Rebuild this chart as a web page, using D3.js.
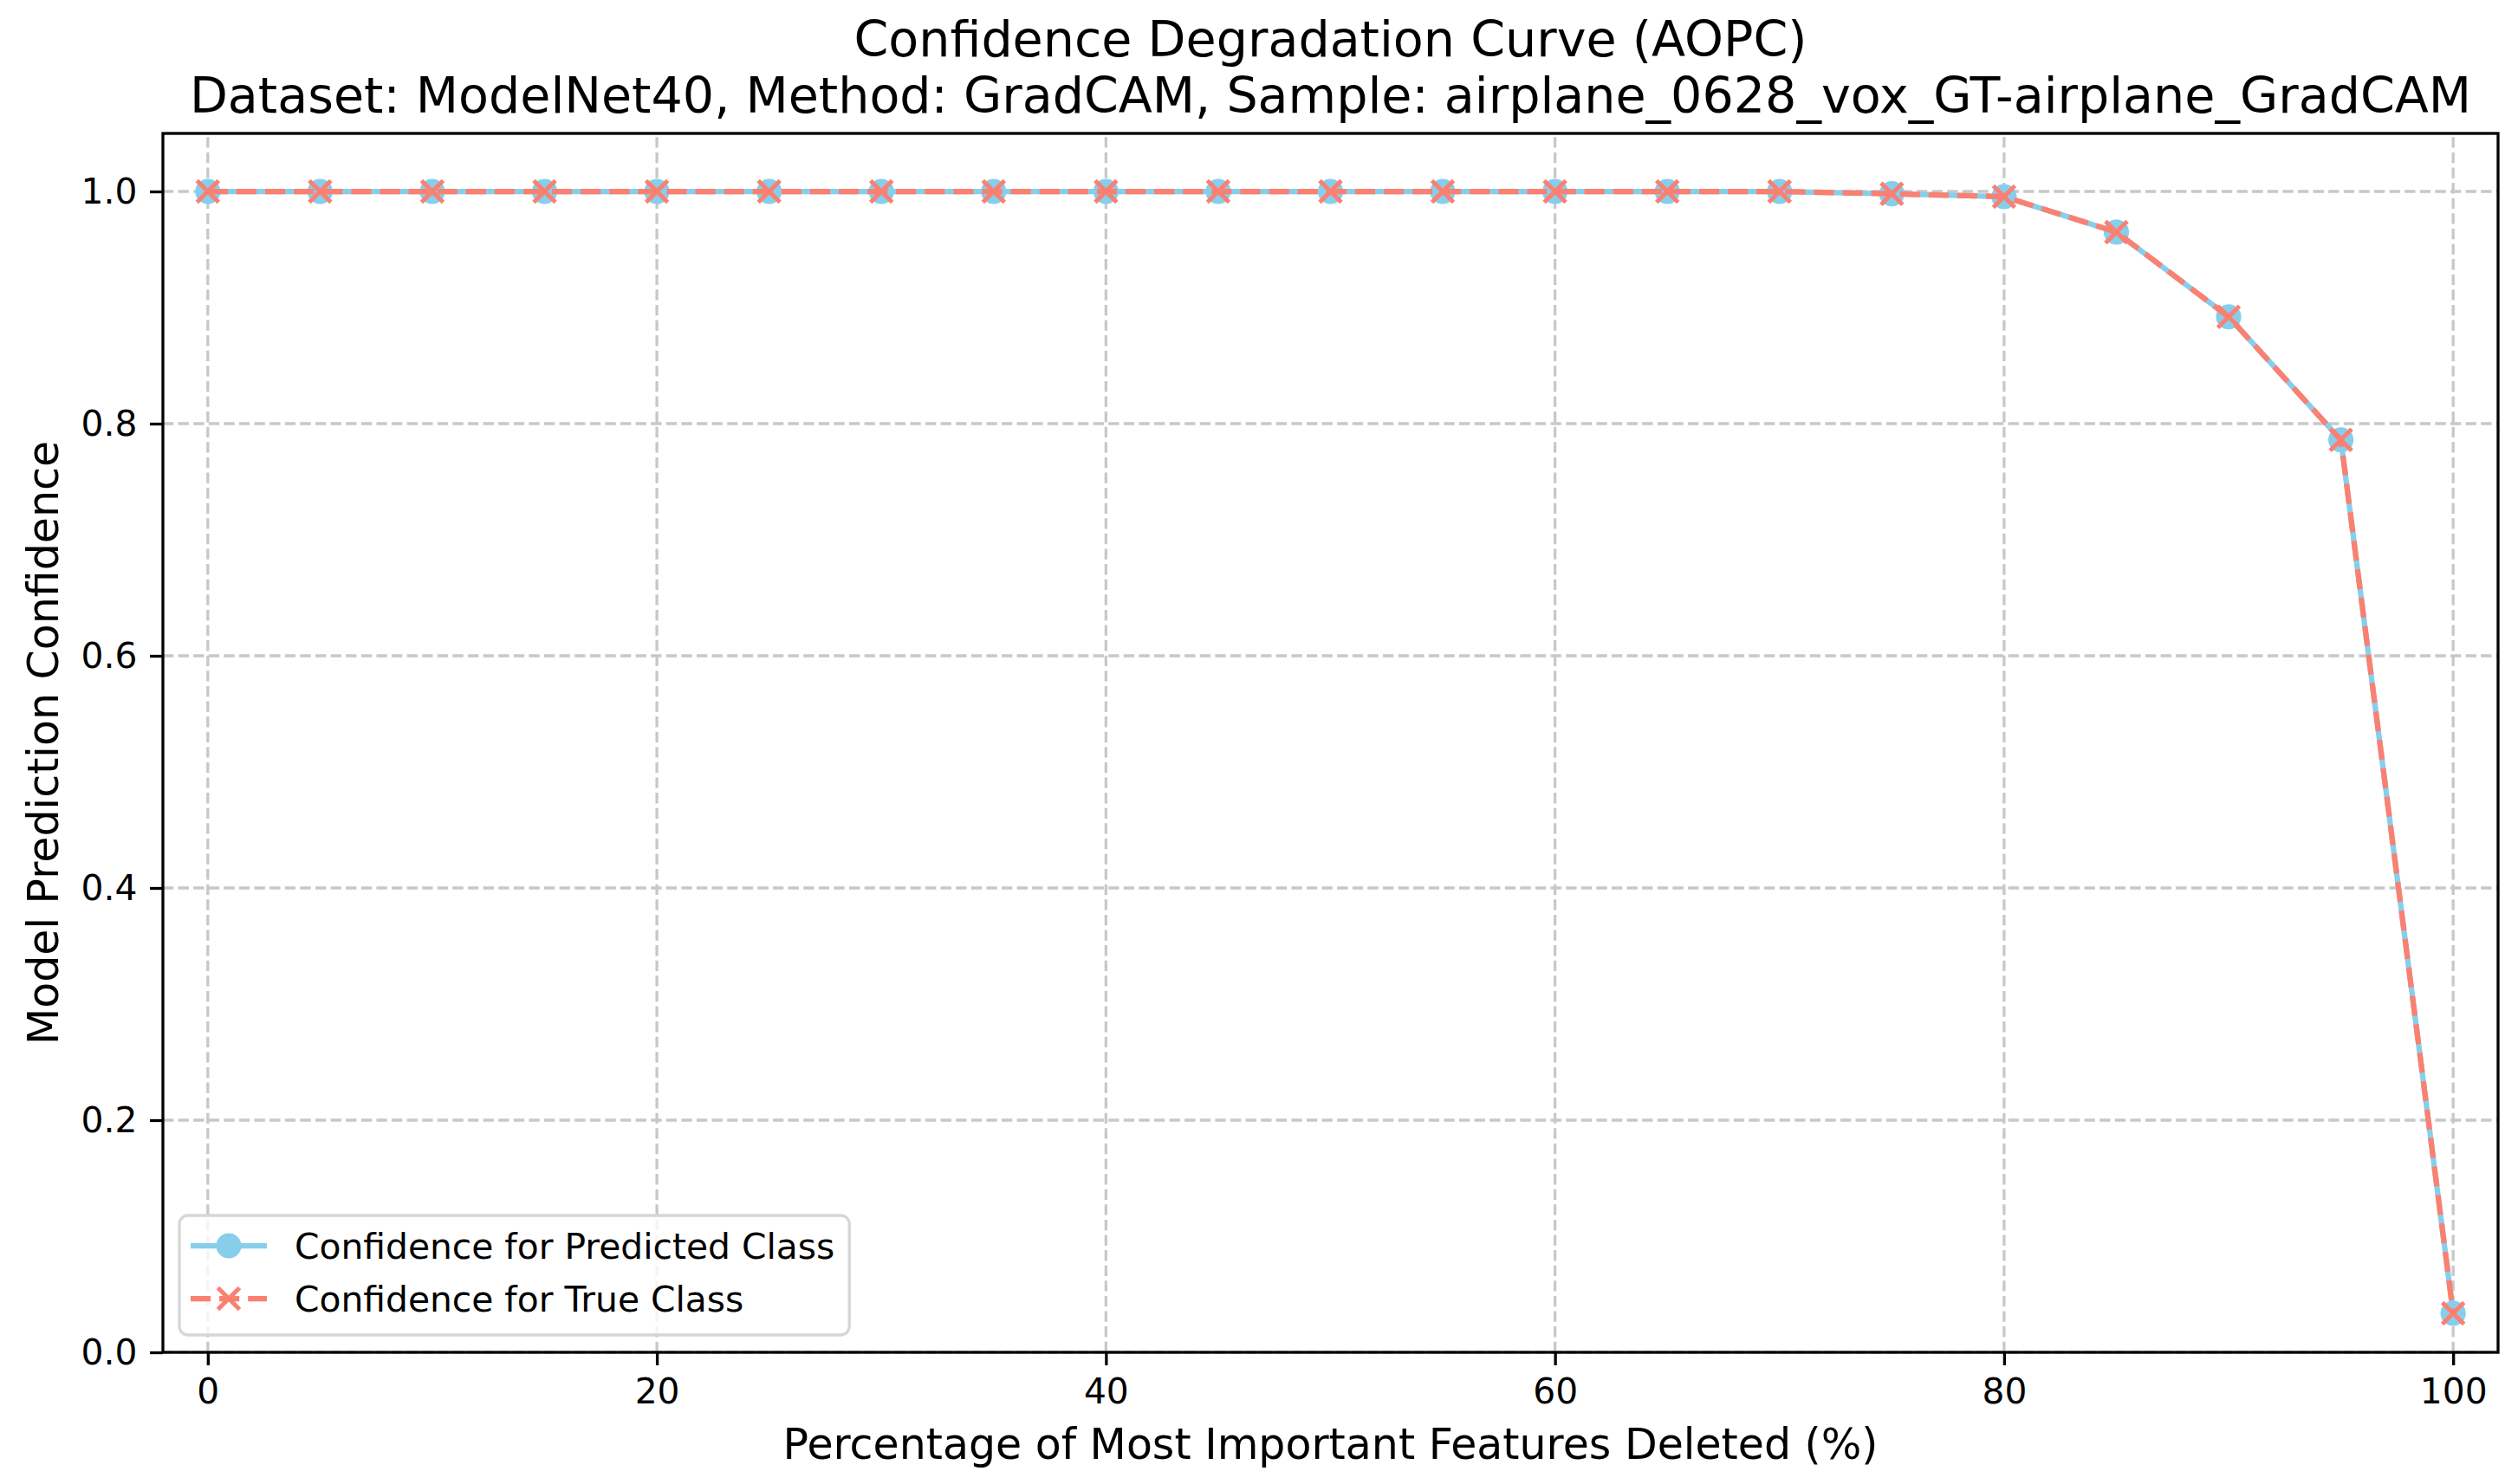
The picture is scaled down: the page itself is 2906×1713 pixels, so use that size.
<!DOCTYPE html>
<html>
<head>
<meta charset="utf-8">
<script src="https://cdn.jsdelivr.net/npm/d3@7"></script>
<style>
  body { margin: 0; background: #fff; }
  text { font-family: "DejaVu Sans", sans-serif; fill: #000; }
</style>
</head>
<body>
<div id="chart"></div>
<script>
// data
var percentages = [0, 5, 10, 15, 20, 25, 30, 35, 40, 45, 50, 55, 60, 65, 70, 75, 80, 85, 90, 95, 100];
var predictedConf = [1.0, 1.0, 1.0, 1.0, 1.0, 1.0, 1.0, 1.0, 1.0, 1.0, 1.0, 1.0, 1.0, 1.0, 1.0, 0.998, 0.9955, 0.965, 0.892, 0.786, 0.0336];
var trueConf = [1.0, 1.0, 1.0, 1.0, 1.0, 1.0, 1.0, 1.0, 1.0, 1.0, 1.0, 1.0, 1.0, 1.0, 1.0, 0.998, 0.9955, 0.965, 0.892, 0.786, 0.0336];
var xTicks = [0, 20, 40, 60, 80, 100];
var yTicks = [0.0, 0.2, 0.4, 0.6, 0.8, 1.0];
var seriesNames = ["Confidence for Predicted Class", "Confidence for True Class"];
var titleLines = ["Confidence Degradation Curve (AOPC)", "Dataset: ModelNet40, Method: GradCAM, Sample: airplane_0628_vox_GT-airplane_GradCAM"];

var svgWidth = 2906;
var svgHeight = 1713;

// plot area edges in pixels
var plotLeft = 188, plotRight = 2883, plotTop = 154, plotBottom = 1561;

var svg = d3.select("#chart")
  .append("svg")
  .attr("width", svgWidth)
  .attr("height", svgHeight);

var xScale = d3.scaleLinear().domain([-2, 102]).range([plotLeft, plotRight]);
var yScale = d3.scaleLinear().domain([0, 1.05]).range([plotBottom, plotTop]);

// grid lines
var grid = svg.append("g")
  .attr("stroke", "#c8c8c8")
  .attr("stroke-width", 3.3)
  .attr("stroke-dasharray", "12.3,5.3");

grid.selectAll(".vgrid")
  .data(xTicks)
  .enter()
  .append("line")
  .attr("x1", d => xScale(d))
  .attr("x2", d => xScale(d))
  .attr("y1", plotBottom)
  .attr("y2", plotTop);

grid.selectAll(".hgrid")
  .data(yTicks)
  .enter()
  .append("line")
  .attr("x1", plotLeft)
  .attr("x2", plotRight)
  .attr("y1", d => yScale(d))
  .attr("y2", d => yScale(d));

// axes
var xAxis = d3.axisBottom(xScale)
  .tickValues(xTicks)
  .tickFormat(d3.format("d"))
  .tickSize(15)
  .tickSizeOuter(0)
  .tickPadding(14.6);

var yAxis = d3.axisLeft(yScale)
  .tickValues(yTicks)
  .tickFormat(d3.format(".1f"))
  .tickSize(15)
  .tickSizeOuter(0)
  .tickPadding(14.6);

var xAxisG = svg.append("g")
  .attr("transform", `translate(0, ${plotBottom})`)
  .call(xAxis);

var yAxisG = svg.append("g")
  .attr("transform", `translate(${plotLeft}, 0)`)
  .call(yAxis);

[xAxisG, yAxisG].forEach(function(g) {
  g.select(".domain").remove();
  g.selectAll(".tick line").attr("stroke", "#000").attr("stroke-width", 3.3);
  g.selectAll(".tick text")
    .style("font-family", "DejaVu Sans, sans-serif")
    .style("font-size", "40.8px")
    .attr("fill", "#000");
});

// lines
var line = d3.line()
  .x((d, i) => xScale(percentages[i]))
  .y(d => yScale(d));

// predicted class: solid sky blue with circles
svg.append("path")
  .datum(predictedConf)
  .attr("d", line)
  .attr("fill", "none")
  .attr("stroke", "#87ceeb")
  .attr("stroke-width", 6.25)
  .attr("stroke-linejoin", "round");

svg.selectAll(".predDot")
  .data(predictedConf)
  .enter()
  .append("circle")
  .attr("cx", (d, i) => xScale(percentages[i]))
  .attr("cy", d => yScale(d))
  .attr("r", 12.5)
  .attr("fill", "#87ceeb")
  .attr("stroke", "#87ceeb")
  .attr("stroke-width", 4.17);

// true class: dashed salmon with x markers
svg.append("path")
  .datum(trueConf)
  .attr("d", line)
  .attr("fill", "none")
  .attr("stroke", "#fa8072")
  .attr("stroke-width", 6.25)
  .attr("stroke-dasharray", "23.1,10");

var xMark = "M-12.5,-12.5L12.5,12.5M-12.5,12.5L12.5,-12.5";

svg.selectAll(".trueMark")
  .data(trueConf)
  .enter()
  .append("path")
  .attr("d", xMark)
  .attr("transform", (d, i) => `translate(${xScale(percentages[i])}, ${yScale(d)})`)
  .attr("fill", "none")
  .attr("stroke", "#fa8072")
  .attr("stroke-width", 5);

// frame
svg.append("rect")
  .attr("x", plotLeft)
  .attr("y", plotTop)
  .attr("width", plotRight - plotLeft)
  .attr("height", plotBottom - plotTop)
  .attr("fill", "none")
  .attr("stroke", "#000")
  .attr("stroke-width", 3.3);

// title
var title = svg.append("text")
  .attr("text-anchor", "middle")
  .style("font-size", "57.1px");

title.selectAll("tspan")
  .data(titleLines)
  .enter()
  .append("tspan")
  .attr("x", (plotLeft + plotRight) / 2)
  .attr("y", (d, i) => 65 + i * 65)
  .text(d => d);

// axis labels
svg.append("text")
  .attr("x", (plotLeft + plotRight) / 2)
  .attr("y", 1684)
  .attr("text-anchor", "middle")
  .style("font-size", "49px")
  .text("Percentage of Most Important Features Deleted (%)");

svg.append("text")
  .attr("transform", `translate(67, ${(plotTop + plotBottom) / 2}) rotate(-90)`)
  .attr("text-anchor", "middle")
  .style("font-size", "49px")
  .text("Model Prediction Confidence");

// legend
var legend = svg.append("g");

var legendBox = legend.append("rect")
  .attr("x", 207)
  .attr("y", 1403)
  .attr("height", 138)
  .attr("width", 772)
  .attr("rx", 10)
  .attr("fill", "#fff")
  .attr("fill-opacity", 0.8)
  .attr("stroke", "#d6d6d6")
  .attr("stroke-width", 3.3);

var rowY = [1438, 1499];

// predicted handle
legend.append("line")
  .attr("x1", 220).attr("x2", 308)
  .attr("y1", rowY[0]).attr("y2", rowY[0])
  .attr("stroke", "#87ceeb")
  .attr("stroke-width", 6.25);
legend.append("circle")
  .attr("cx", 264).attr("cy", rowY[0])
  .attr("r", 12.5)
  .attr("fill", "#87ceeb")
  .attr("stroke", "#87ceeb")
  .attr("stroke-width", 4.17);

// true handle
legend.append("line")
  .attr("x1", 220).attr("x2", 308)
  .attr("y1", rowY[1]).attr("y2", rowY[1])
  .attr("stroke", "#fa8072")
  .attr("stroke-width", 6.25)
  .attr("stroke-dasharray", "23.1,10");
legend.append("path")
  .attr("d", xMark)
  .attr("transform", `translate(264, ${rowY[1]})`)
  .attr("fill", "none")
  .attr("stroke", "#fa8072")
  .attr("stroke-width", 5);

var labels = legend.selectAll(".legendText")
  .data(seriesNames)
  .enter()
  .append("text")
  .attr("x", 340)
  .attr("y", (d, i) => rowY[i] + 15)
  .style("font-size", "40.8px")
  .text(d => d);

// size the box to the text
var maxLen = d3.max(labels.nodes(), n => n.getComputedTextLength());
legendBox.attr("width", 340 + maxLen + 17 - 207);
</script>
</body>
</html>
